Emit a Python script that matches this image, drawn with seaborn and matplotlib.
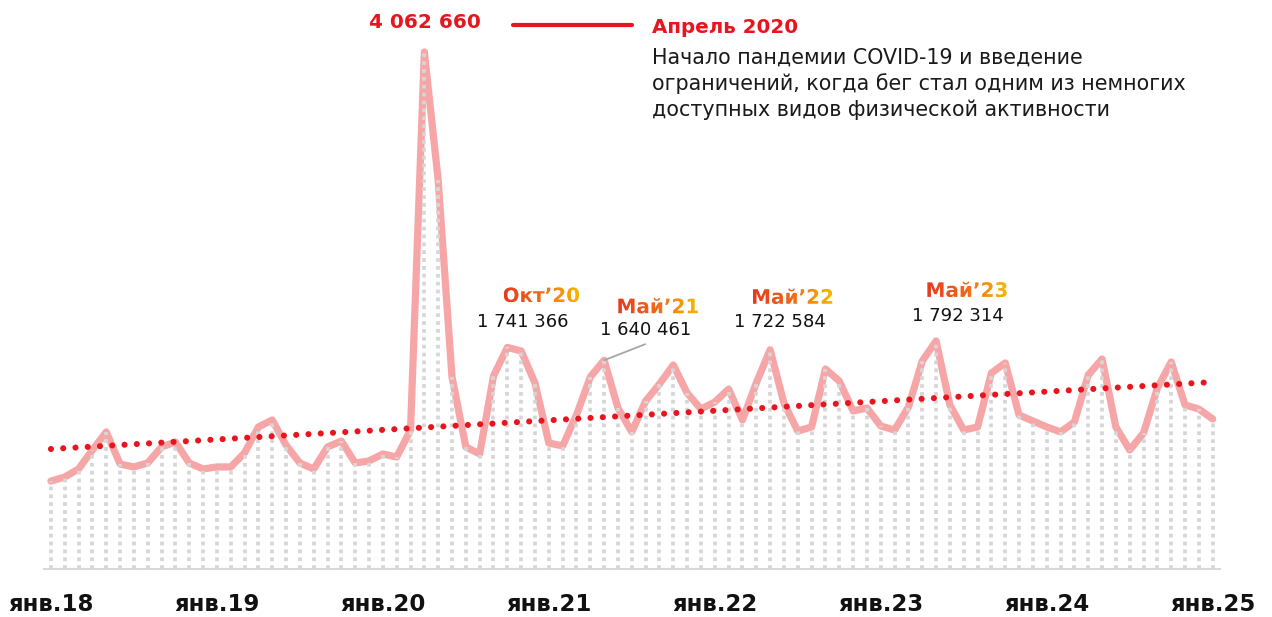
import matplotlib.pyplot as plt
import numpy as np
import pandas as pd
import seaborn as sns
from matplotlib.colors import LinearSegmentedColormap
from matplotlib.font_manager import FontProperties
from matplotlib.patches import PathPatch
from matplotlib.textpath import TextPath
from matplotlib.transforms import Affine2D

sns.set_theme(style="white")
plt.rcParams["font.family"] = ["DejaVu Sans"]

# Данные: число пробежек по месяцам, янв.2018 - янв.2025
months = pd.date_range("2018-01-01", "2025-01-01", freq="MS")
runs = [
    691000, 723000, 786000, 935000, 1077000, 825000, 802000, 833000, 959000, 998000, 833000, 786000,
    802000, 802000, 912000, 1116000, 1171000, 974000, 833000, 786000, 959000, 1006000, 833000, 849000,
    904000, 880000, 1092000, 4062660, 3057000, 1509000, 959000, 904000, 1517000, 1741366, 1713000, 1462000,
    990000, 967000, 1210000, 1509000, 1640461, 1265000, 1077000, 1320000, 1454000, 1603000, 1383000, 1257000,
    1312000, 1414000, 1171000, 1462000, 1722584, 1304000, 1084000, 1116000, 1572000, 1477000, 1242000, 1265000,
    1124000, 1092000, 1273000, 1634000, 1792314, 1289000, 1092000, 1116000, 1540000, 1619000, 1210000, 1163000,
    1116000, 1077000, 1155000, 1524000, 1650000, 1116000, 935000, 1069000, 1422000, 1627000, 1289000, 1257000,
    1179000,
]
# линия тренда (значения на концах)
trend_months = ["2018-01", "2025-01"]
trend_runs = [943000, 1469000]

year_labels = ["янв.18", "янв.19", "янв.20", "янв.21", "янв.22", "янв.23", "янв.24", "янв.25"]

peak_value_label = "4 062 660"
peak_title = "Апрель 2020"
peak_text = [
    "Начало пандемии COVID-19 и введение",
    "ограничений, когда бег стал одним из немногих",
    "доступных видов физической активности",
]

callout_months = ["2020-10", "2021-05", "2022-05", "2023-05"]
callout_names = ["Окт’20", "Май’21", "Май’22", "Май’23"]
callout_values = ["1 741 366", "1 640 461", "1 722 584", "1 792 314"]

df = pd.DataFrame({"month": months, "runs": runs})
df["i"] = np.arange(len(df))
idx = dict(zip(df["month"], df["i"]))
trend = pd.DataFrame({"i": [idx[pd.Timestamp(m)] for m in trend_months], "runs": trend_runs})

W, H = 1272, 617
fig = plt.figure(figsize=(W / 100, H / 100), dpi=100)
ax = fig.add_axes([44 / W, 48 / H, 1175.6 / W, 569 / H])
ax.set_xlim(-0.5, len(df) - 0.5)
ax.set_ylim(0, 569 * 7858)

# пунктирные вертикальные линии до оси
ax.vlines(df["i"], 0, df["runs"], colors="#D6D6D6", linestyles=(0, (1, 1.1)), linewidth=2.7, zorder=3)

sns.lineplot(data=df, x="i", y="runs", color="#F7A6A8", linewidth=5.2, ax=ax, zorder=2,
             solid_joinstyle="round", solid_capstyle="round")

# линейный тренд
sns.lineplot(data=trend, x="i", y="runs", ax=ax, color="#E8141E", linewidth=4.4,
             linestyle=(0, (0.01, 2.0)), dash_capstyle="round", zorder=4)

ax.set_xlabel("")
ax.set_ylabel("")
ax.set_yticks([])
for s in ["left", "top", "right"]:
    ax.spines[s].set_visible(False)
ax.spines["bottom"].set_color("#D9D9D9")
ax.spines["bottom"].set_linewidth(1.5)

ax.set_xticks(np.arange(-0.5, len(df), 12), labels=[""] * 8)
ax.set_xticks(np.arange(0, len(df), 12), labels=year_labels, minor=True,
              fontsize=16.5, fontweight="bold", color="#111111")
ax.tick_params(axis="x", which="major", length=6, width=1.5, color="#D9D9D9", direction="out")
ax.tick_params(axis="x", which="minor", length=0, pad=17)

# оверлей в пикселях для подписей
ov = fig.add_axes([0, 0, 1, 1])
ov.set_xlim(0, W)
ov.set_ylim(0, H)
ov.axis("off")
ov.patch.set_alpha(0)


def px(i, v):
    return ax.transData.transform((i, v))


grad = LinearSegmentedColormap.from_list("g", ["#E63B1F", "#F06A1A", "#F7B800"])
bold_fp = FontProperties(family="DejaVu Sans", weight="bold")


def gradient_text(cx, cy, s, size):
    tp = TextPath((0, 0), s, size=size, prop=bold_fp)
    e = tp.get_extents()
    path = Affine2D().translate(cx - (e.x0 + e.x1) / 2, cy - (e.y0 + e.y1) / 2).transform_path(tp)
    patch = PathPatch(path, facecolor="none", edgecolor="none", transform=ov.transData)
    ov.add_patch(patch)
    e = path.get_extents()
    ov.imshow(np.linspace(0, 1, 128).reshape(1, -1), cmap=grad, extent=[e.x0, e.x1, e.y0, e.y1],
              aspect="auto", clip_path=patch, zorder=5)


name_off = [(34, 52.5), (54, 54.5), (22.5, 53.5), (31, 51.5)]
value_off = [(15.5, 20), (41, 25), (9.5, 23), (22, 20)]
for m, name, val, no, vo in zip(callout_months, callout_names, callout_values, name_off, value_off):
    row = df[df["month"] == pd.Timestamp(m)].iloc[0]
    x, y = px(row["i"], row["runs"])
    gradient_text(x + no[0], y + no[1], name, 20)
    ov.text(x + vo[0], y + vo[1], val, ha="center", va="baseline", fontsize=13, color="#111111")
    if name == "Май’21":
        ov.plot([x, x + 41], [y, y + 16], color="#A6A6A6", linewidth=1.3)

# пик апреля 2020
peak = df.loc[df["runs"].idxmax()]
x, y = px(peak["i"], peak["runs"])
ov.text(x + 1, y + 24, peak_value_label, ha="center", va="baseline", fontsize=14.4,
        fontweight="bold", color="#E8141E")
ov.plot([x + 89, x + 208], [y + 27, y + 27], color="#E8141E", linewidth=3)
ov.text(x + 228, y + 19, peak_title, ha="left", va="baseline", fontsize=14.3,
        fontweight="bold", color="#E8141E")
for k, line in enumerate(peak_text):
    ov.text(x + 228, y - 12 - 26 * k, line, ha="left", va="baseline", fontsize=14.9, color="#1A1A1A")

ov.set_xlim(0, W)
ov.set_ylim(0, H)

fig.savefig("out.png", dpi=100)
